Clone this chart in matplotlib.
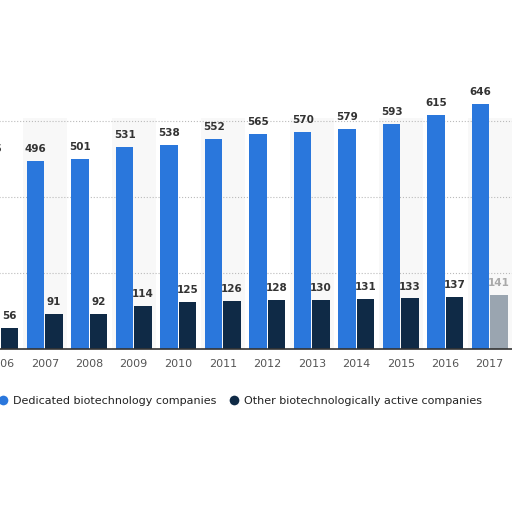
import matplotlib.pyplot as plt
from matplotlib.lines import Line2D
import numpy as np

# data
years = ["2006", "2007", "2008", "2009", "2010", "2011", "2012",
         "2013", "2014", "2015", "2016", "2017"]
dedicated = [495, 496, 501, 531, 538, 552, 565, 570, 579, 593, 615, 646]
other = [56, 91, 92, 114, 125, 126, 128, 130, 131, 133, 137, 141]

blue = "#2a77dc"
navy = "#0f2a46"

fig = plt.figure(figsize=(5.12, 5.12), dpi=100)
ax = fig.add_axes([-22 / 512, 163 / 512, 534 / 512, 266 / 512])

x = np.arange(len(years))
w = 0.39

# light alternating column shading
for i in x:
    if i % 2 == 1:
        ax.axvspan(i - 0.5, i + 0.5, ymax=0.87, color="#f8f8f8", zorder=0, lw=0)

b1 = ax.bar(x - w / 2 - 0.01, dedicated, w, color=blue, zorder=2)
b2 = ax.bar(x + w / 2 + 0.01, other, w, color=navy, zorder=2)
b2[-1].set_alpha(0.4)

for rect, v in zip(b1, dedicated):
    ax.annotate(str(v), (rect.get_x() + rect.get_width() / 2, v),
                xytext=(0, 5), textcoords="offset points", ha="center",
                va="bottom", fontsize=7.5, fontweight="bold", color="#333333")
for i, (rect, v) in enumerate(zip(b2, other)):
    ax.annotate(str(v), (rect.get_x() + rect.get_width() / 2, v),
                xytext=(0, 5), textcoords="offset points", ha="center",
                va="bottom", fontsize=7.5, fontweight="bold",
                color="#aaaaaa" if i == len(other) - 1 else "#333333")

ax.set_xlim(-0.5, 11.5)
ax.set_ylim(0, 700)
ax.set_yticks([200, 400, 600])
ax.yaxis.grid(True, linestyle=":", color="#bbbbbb", lw=0.8, zorder=1)
ax.tick_params(axis="y", left=False, labelleft=False)
ax.set_xticks(x)
ax.set_xticklabels(years, fontsize=8, color="#555555")
ax.tick_params(axis="x", length=0, pad=7)
for s in ["top", "left", "right"]:
    ax.spines[s].set_visible(False)
ax.spines["bottom"].set_color("#333333")
ax.spines["bottom"].set_linewidth(1.2)
ax.set_facecolor("white")

handles = [Line2D([], [], marker="o", color="w", markerfacecolor=blue, markersize=8),
           Line2D([], [], marker="o", color="w", markerfacecolor=navy, markersize=8)]
fig.legend(handles, ["Dedicated biotechnology companies",
                     "Other biotechnologically active companies"],
           loc="center left", bbox_to_anchor=(-14 / 512, 1 - 401 / 512),
           ncol=2, frameon=False, handletextpad=0.3,
           columnspacing=1.0, handlelength=1.2,
           prop={"size": 8}, labelcolor="#222222")

fig.savefig("out.png", dpi=100)
